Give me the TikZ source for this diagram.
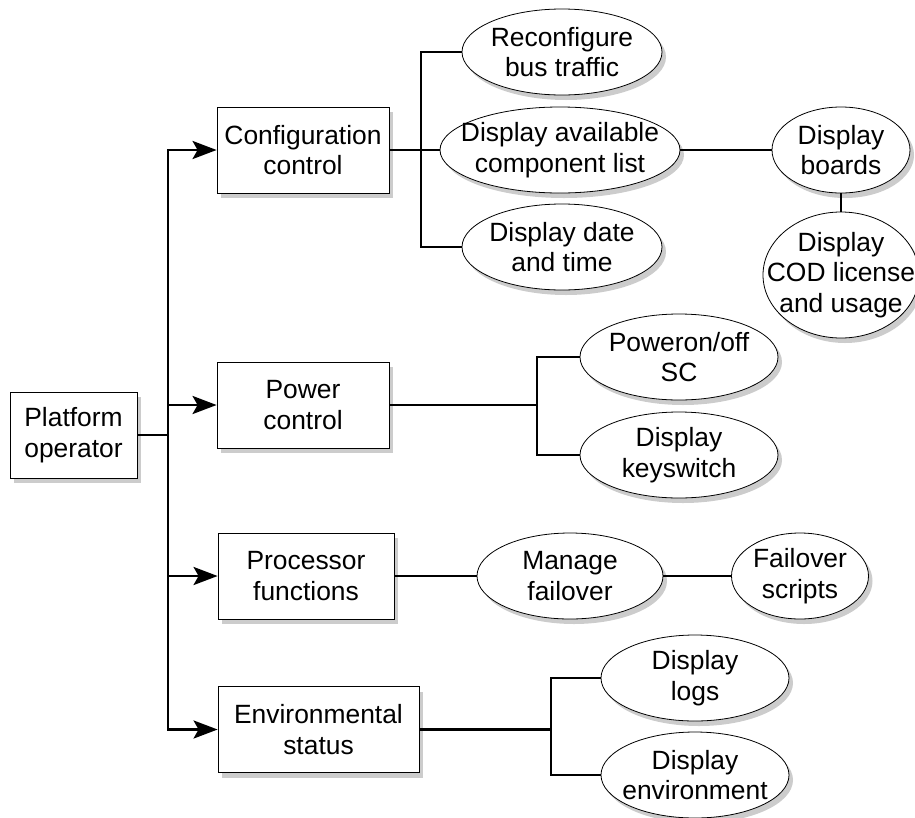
\documentclass[tikz,border=0pt]{standalone}
\usepackage{fontspec}
\setmainfont{Liberation Sans}
\usetikzlibrary{shapes.geometric,shadows,arrows.meta}
\tikzset{
  shade/.style={drop shadow={shadow xshift=4pt, shadow yshift=-5pt, fill=black!20, opacity=1}},
  box/.style={draw, fill=white, line width=0.8pt, minimum width=#1, minimum height=86pt, inner sep=0pt, align=center, shade},
  usecase/.style={ellipse, draw, fill=white, line width=0.8pt, minimum width=#1, minimum height=86pt, inner sep=-150pt, align=center, shade},
  link/.style={line width=2.8pt},
  arr/.style={link, -{Stealth[length=24pt,width=18pt,inset=5pt]}},
}
\begin{document}
\begin{tikzpicture}[x=1pt, y=-1pt, font=\fontsize{26.4pt}{30.4pt}\selectfont]
\useasboundingbox (0,0) rectangle (915,817);

% Acteur et fonctions
\node[box=127pt] (op) at (73.5,435) {Platform\\operator};
\node[box=172pt] (cfg) at (303,150) {Configuration\\control};
\node[box=172pt] (pwr) at (303,405) {Power\\control};
\node[box=176pt] (proc) at (306,576) {Processor\\functions};
\node[box=201pt] (env) at (318.5,729.5) {Environmental\\status};

% Cas d'utilisation
\node[usecase=200pt] (recfg) at (562,52) {Reconfigure\\bus traffic};
\node[usecase=240pt] (avail) at (560,150) {Display available\\component list};
\node[usecase=200pt] (date) at (562,247) {Display date\\and time};
\node[usecase=138pt] (boards) at (841,150) {Display\\boards};
\node[usecase=156pt, minimum height=126pt] (cod) at (841,275) {Display\\COD license\\and usage};
\node[usecase=198pt] (pon) at (679,357) {Poweron/off\\SC};
\node[usecase=198pt] (key) at (679,455) {Display\\keyswitch};
\node[usecase=186pt] (mng) at (570,576) {Manage\\failover};
\node[usecase=137pt] (fscr) at (800,576) {Failover\\scripts};
\node[usecase=188pt] (logs) at (695,678) {Display\\logs};
\node[usecase=188pt] (envd) at (695,775) {Display\\environment};

% Embranchements
\coordinate (tr) at (168,0);
\coordinate (cb) at (421,0);
\coordinate (pb) at (537,0);
\coordinate (eb) at (551,0);

% Les liaisons
\draw[link, line cap=rect] (tr |- cfg.west) -- (tr |- env.west);
\draw[link] (op.east) -- (op.east -| tr);
\foreach \n in {cfg,pwr,proc,env}
  \draw[arr] (tr |- \n.west) -- (\n.west);

\draw[link] (recfg.west) -- (recfg.west -| cb) -- (date.west -| cb) -- (date.west);
\draw[link] (cfg.east) -- (avail.west);
\draw[link] (avail.east) -- (boards.west);
\draw[link] (boards.south) -- (cod.north);

\draw[link] (pon.west) -- (pon.west -| pb) -- (key.west -| pb) -- (key.west);
\draw[link] (pwr.east) -- (pwr.east -| pb);

\draw[link] (proc.east) -- (mng.west);
\draw[link] (mng.east) -- (fscr.west);

\draw[link] (logs.west) -- (logs.west -| eb) -- (envd.west -| eb) -- (envd.west);
\draw[link] (env.east) -- (env.east -| eb);
\end{tikzpicture}
\end{document}
